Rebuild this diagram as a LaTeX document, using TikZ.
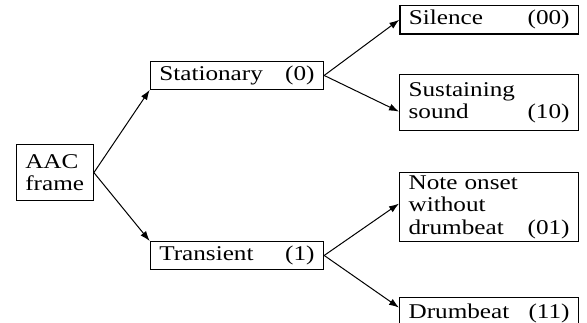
\documentclass[tikz,border=0pt]{standalone}
\usepackage{fontspec}
\setmainfont{Liberation Serif}[FakeStretch=1.2]
\usetikzlibrary{arrows.meta}
\begin{document}
\begin{tikzpicture}[x=1pt,y=-1pt,
  box/.style={draw, line width=1.2pt, inner xsep=9pt, inner ysep=0pt, align=left,
    anchor=north west, font=\fontsize{21}{22.5}\selectfont},
  arr/.style={-{Latex[length=10pt,width=7pt]}, line width=1pt}]
\useasboundingbox (0,0) rectangle (587,322);
\clip (0,0) rectangle (587,322);
\node[box, text width=59pt, minimum height=56pt] (aac) at (15.7,144) {AAC\\frame};
\node[box, text width=155.3pt, minimum height=27.7pt] (stat) at (149.7,61) {Stationary\hfill(0)\hspace*{2pt}};
\node[box, text width=155.3pt, minimum height=27.7pt] (trans) at (149.7,241) {Transient\hfill(1)\hspace*{4pt}};
\node[box, text width=160.7pt, minimum height=28.3pt] (sil) at (399.3,5) {Silence\hfill(00)\hspace*{0pt}};
\node[box, text width=161pt, minimum height=56pt] (sus) at (399,74) {Sustaining\\sound\hfill(10)\hspace*{9pt}};
\node[box, text width=161pt, minimum height=69pt] (note) at (399,172) {Note onset\\without\\drumbeat\hfill(01)\hspace*{6pt}};
\node[box, text width=161pt, minimum height=31pt] (drum) at (399,297) {Drumbeat\hfill(11)\hspace*{2pt}};
\draw[arr] (aac.east) -- (stat.south west);
\draw[arr] (aac.east) -- (trans.north west);
\draw[arr] (stat.east) -- (sil.west);
\draw[arr] (stat.east) -- ([yshift=-9pt]sus.west);
\draw[arr] (trans.east) -- ([yshift=3.5pt]note.west);
\draw[arr] (trans.east) -- ([yshift=5.5pt]drum.west);
\end{tikzpicture}
\end{document}
